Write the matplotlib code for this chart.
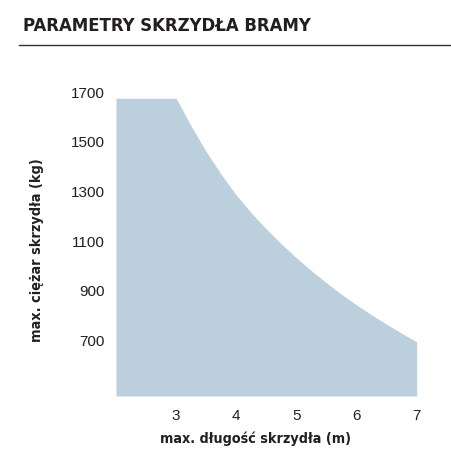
import matplotlib
matplotlib.use("Agg")
import matplotlib.pyplot as plt
import matplotlib.transforms as mtransforms
from matplotlib import font_manager

# szerokość skrzydła (m) i maksymalny ciężar (kg)
dlugosc = [2.0, 3.0, 3.25, 3.5, 3.75, 4.0, 4.25, 4.5, 4.75, 5.0,
           5.25, 5.5, 5.75, 6.0, 6.25, 6.5, 6.75, 7.0]
ciezar = [1700, 1700, 1588, 1485, 1393, 1310, 1238, 1173, 1113, 1057,
          1005, 956, 910, 867, 827, 789, 753, 718]

x_ticks = [3, 4, 5, 6, 7]
y_ticks = [700, 900, 1100, 1300, 1500, 1700]

fill_col = "#bccfdc"
txt_col = "#231f20"

names = {f.name for f in font_manager.fontManager.ttflist}
narrow = [n for n in ["Liberation Sans Narrow", "DejaVu Sans"] if n in names]

fig = plt.figure(figsize=(4.51, 4.62), dpi=100)
W, H = 451, 462
ax = fig.add_axes([116 / W, 1 - 396 / H, (416.7 - 116) / W, (396 - 98.3) / H])

ax.fill_between(dlugosc, 500, ciezar, color=fill_col, linewidth=0)
ax.set_xlim(2, 7)
ax.set_ylim(500, 1700)

for s in ax.spines.values():
    s.set_visible(False)
ax.set_xticks(x_ticks)
ax.set_yticks(y_ticks)
ax.tick_params(length=0, labelsize=11, colors=txt_col)
ax.tick_params(axis="x", pad=9)
ax.tick_params(axis="y", pad=8)
for lab in ax.get_xticklabels() + ax.get_yticklabels():
    lab.set_fontfamily(["Liberation Sans", "DejaVu Sans"])
# etykiety osi Y są lekko nad wartościami
off = mtransforms.ScaledTranslation(0, 6 / 100, fig.dpi_scale_trans)
for lab in ax.get_yticklabels():
    lab.set_transform(lab.get_transform() + off)

# tytuł i linia
fig.text(23 / W, 1 - 26 / H, "PARAMETRY SKRZYDŁA BRAMY", family=narrow,
         fontweight="bold", fontstretch="condensed", fontsize=13.2,
         color=txt_col, va="center", ha="left")
fig.add_artist(plt.Line2D([19 / W, 1], [1 - 45 / H, 1 - 45 / H],
                          color="#333333", linewidth=1.0))

fig.text(255 / W, 1 - 439 / H, "max. długość skrzydła (m)", family=narrow,
         fontweight="bold", fontstretch="condensed", fontsize=10.3,
         color=txt_col, ha="center", va="center")
fig.text(37 / W, 1 - 250 / H, "max. ciężar skrzydła (kg)", family=narrow,
         fontweight="bold", fontstretch="condensed", fontsize=10.4,
         color=txt_col, ha="center", va="center", rotation=90)

fig.savefig("out.png", dpi=100)
